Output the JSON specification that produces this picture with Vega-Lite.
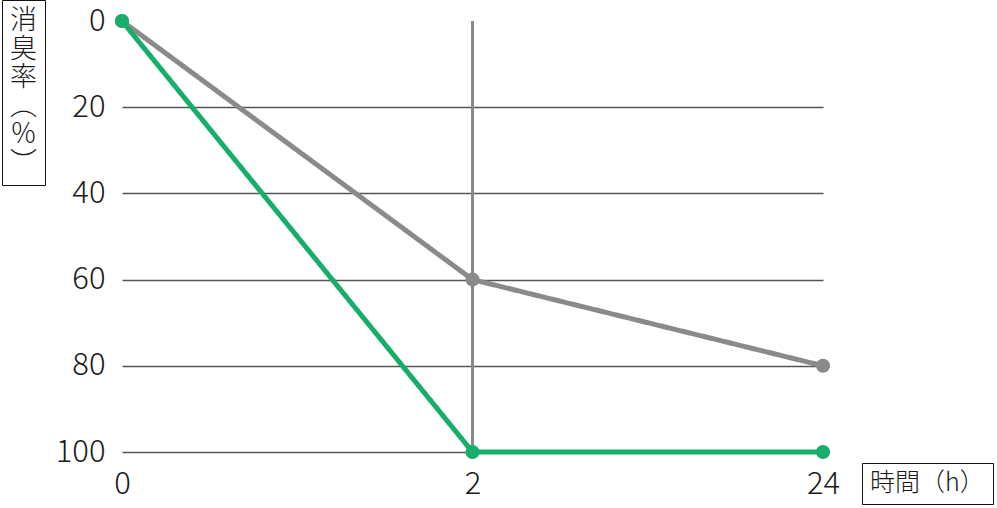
{
  "$schema": "https://vega.github.io/schema/vega-lite/v6.json",
  "width": 701,
  "height": 431,
  "autosize": {"type": "none"},
  "padding": {"left": 122, "top": 21, "right": 174, "bottom": 56},
  "background": "white",
  "config": {
    "font": "Noto Sans CJK JP",
    "view": {"stroke": null}
  },
  "data": {
    "values": [
      {"series": "比較品", "time": "0", "rate": 0},
      {"series": "比較品", "time": "2", "rate": 60},
      {"series": "比較品", "time": "24", "rate": 80},
      {"series": "本品", "time": "0", "rate": 0},
      {"series": "本品", "time": "2", "rate": 100},
      {"series": "本品", "time": "24", "rate": 100}
    ]
  },
  "layer": [
    {
      "mark": {"type": "rule", "color": "#888888", "strokeWidth": 2},
      "encoding": {
        "x": {"datum": "2", "type": "ordinal"}
      }
    },
    {
      "mark": {"type": "line", "strokeWidth": 5},
      "encoding": {
        "x": {
          "field": "time",
          "type": "ordinal",
          "scale": {"type": "point", "padding": 0, "domain": ["0", "2", "24"]},
          "axis": {
            "title": null,
            "domain": false,
            "ticks": false,
            "grid": false,
            "labelAngle": 0,
            "labelAlign": "center",
            "labelBaseline": "top",
            "labelFontSize": 31,
            "labelFontWeight": 300,
            "labelColor": "#1a1a1a",
            "labelPadding": 17
          }
        },
        "y": {
          "field": "rate",
          "type": "quantitative",
          "scale": {"domain": [0, 100], "reverse": true, "nice": false, "zero": false},
          "axis": {
            "title": null,
            "values": [0, 20, 40, 60, 80, 100],
            "domain": false,
            "ticks": false,
            "grid": true,
            "gridColor": "#555555",
            "gridWidth": 1.5,
            "gridOpacity": {"condition": {"test": "datum.value === 0", "value": 0}, "value": 1},
            "labelFontSize": 31,
            "labelFontWeight": 300,
            "labelColor": "#1a1a1a",
            "labelPadding": 17
          }
        },
        "color": {
          "field": "series",
          "type": "nominal",
          "scale": {"domain": ["比較品", "本品"], "range": ["#8a8a8a", "#17ad6a"]},
          "legend": {
            "values": [],
            "title": "時間（h）",
            "orient": "none",
            "legendX": 740,
            "legendY": 442,
            "strokeColor": "#111111",
            "padding": 8,
            "titleFontSize": 25,
            "titleFontWeight": 300,
            "titleColor": "#1a1a1a",
            "titlePadding": 0
          }
        },
        "strokeDash": {
          "field": "series",
          "type": "nominal",
          "scale": {"domain": ["本品", "比較品"], "range": [[1, 0], [1, 0]]},
          "legend": {
            "values": [],
            "title": ["消", "臭", "率", "︵", "％", "︶"],
            "orient": "none",
            "legendX": -120,
            "legendY": -21,
            "strokeColor": "#111111",
            "padding": 8,
            "titleFontSize": 27,
            "titleFontWeight": 300,
            "titleLineHeight": 28.5,
            "titleColor": "#1a1a1a",
            "titlePadding": 0
          }
        }
      }
    },
    {
      "mark": {"type": "point", "filled": true, "size": 200, "opacity": 1},
      "encoding": {
        "x": {"field": "time", "type": "ordinal"},
        "y": {"field": "rate", "type": "quantitative"},
        "color": {"field": "series", "type": "nominal"}
      }
    }
  ]
}
